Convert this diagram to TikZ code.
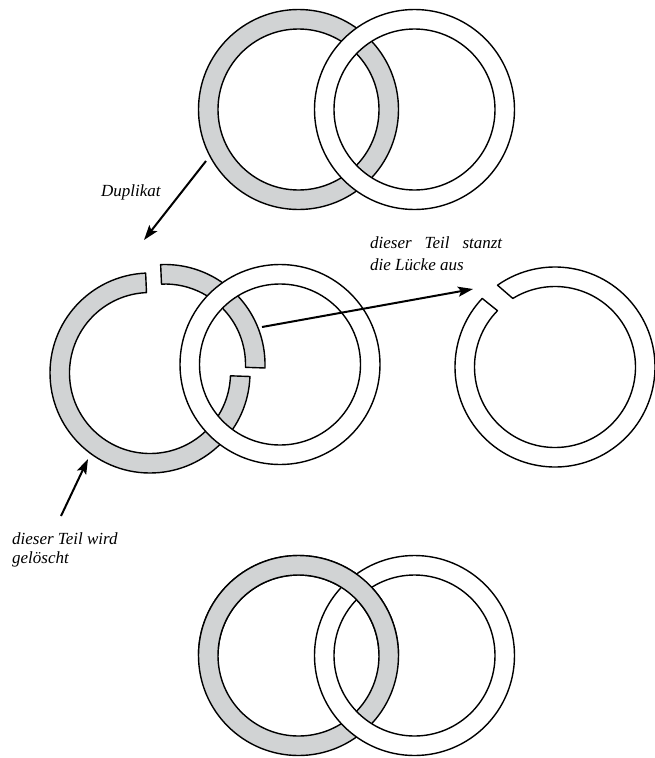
\documentclass[tikz,border=0pt]{standalone}
\usepackage{fontspec}
\setmainfont{Liberation Serif}
\usetikzlibrary{arrows.meta,calc}
\definecolor{ringgray}{RGB}{209,211,212}
\begin{document}
\begin{tikzpicture}[x=1pt,y=1pt,
  ringline/.style={line width=1.4pt, line join=round},
  grayring/.style={ringline, draw=black, fill=ringgray, even odd rule},
  whitering/.style={ringline, draw=black, fill=white, even odd rule},
  pointer/.style={line width=2pt, -{Stealth[length=15pt,width=10pt,inset=3pt]}},
  lbl/.style={font=\fontsize{17}{19}\selectfont\itshape, inner sep=0pt, anchor=base west}]
\fill[white] (0,0) rectangle (655,-758);
\useasboundingbox (0,0) rectangle (655,-758);

% ---- top pair: white ring over gray ring at both crossings
\coordinate (tg) at (298.5,-109.5);
\coordinate (tw) at (414.5,-109.5);
\path[grayring] (tg) circle[radius=100pt] (tg) circle[radius=80.5pt];
\path[whitering] (tw) circle[radius=100pt] (tw) circle[radius=80.5pt];

% ---- middle pair: cut gray ring, white ring
\coordinate (mB) at (150,-373);
\coordinate (mA) at (165,-364.5);
\coordinate (mw) at (280,-364.5);
\path[grayring] ([shift={(92.5:100pt)}]mB) arc[start angle=92.5,end angle=358,radius=100pt]
   -- ([shift={(358:80.5pt)}]mB) arc[start angle=358,end angle=92.5,radius=80.5pt] -- cycle;
\path[grayring] ([shift={(-2:100pt)}]mA) arc[start angle=-2,end angle=92.5,radius=100pt]
   -- ([shift={(92.5:80.5pt)}]mA) arc[start angle=92.5,end angle=-2,radius=80.5pt] -- cycle;
\path[whitering] (mw) circle[radius=100pt] (mw) circle[radius=80.5pt];

% ---- right ring with punched gap
\coordinate (rw) at (555,-367);
\path[whitering] ([shift={(125.1:100pt)}]rw) arc[start angle=125.1,end angle=-223.3,radius=100pt]
   -- ([shift={(-224.4:80.5pt)}]rw) arc[start angle=-224.4,end angle=121.6,radius=80.5pt] -- cycle;

% ---- bottom pair: gray over white at top crossing, white over gray at bottom
\coordinate (bg) at (298.5,-655.5);
\coordinate (bw) at (414.5,-655.5);
\path[grayring] (bg) circle[radius=100pt] (bg) circle[radius=80.5pt];
\path[whitering] (bw) circle[radius=100pt] (bw) circle[radius=80.5pt];
\begin{scope}
  \clip (150,-655.5) rectangle (520,-540);
  \path[grayring] (bg) circle[radius=100pt] (bg) circle[radius=80.5pt];
\end{scope}

% ---- arrows
\coordinate (dupS) at (206,-161);
\coordinate (dupE) at (144,-240);
\coordinate (punS) at (262,-327);
\coordinate (punE) at (473,-289);
\coordinate (delS) at (61,-516);
\coordinate (delE) at (88,-459);
\draw[pointer] (dupS) -- (dupE);
\draw[pointer] (punS) -- (punE);
\draw[pointer] (delS) -- (delE);

% ---- labels
\node[lbl] (dup) at (101,-196) {Duplikat};
\node[lbl] (st1) at (370,-248) {\makebox[132pt][s]{dieser Teil stanzt}};
\node[lbl] (st2) at (370,-270) {die Lücke aus};
\node[lbl] (del1) at (12,-544) {dieser Teil wird};
\node[lbl] (del2) at (12,-563) {gelöscht};
\end{tikzpicture}
\end{document}
